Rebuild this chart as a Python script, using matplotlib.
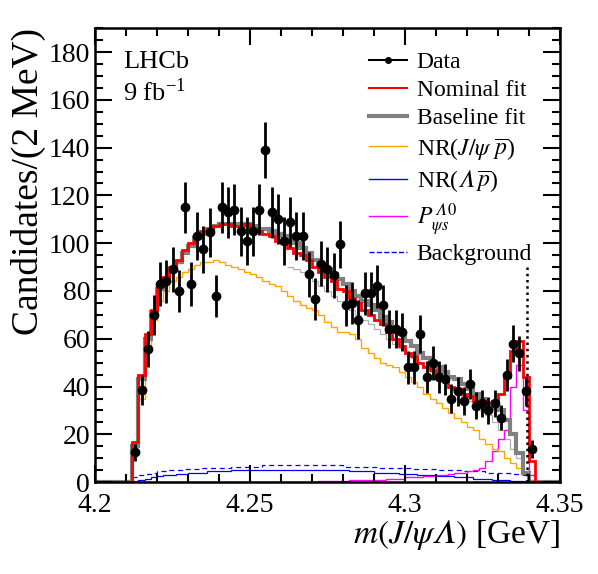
import numpy as np
import matplotlib
matplotlib.use("Agg")
import matplotlib.pyplot as plt
from matplotlib.ticker import MultipleLocator
from matplotlib.lines import Line2D

plt.rcParams["font.family"] = ["Liberation Serif", "DejaVu Serif"]
plt.rcParams["mathtext.fontset"] = "stix"

# 2 MeV bins from threshold
edges = 4.212 + 0.002 * np.arange(66)
centers = 0.5 * (edges[:-1] + edges[1:])

data = [12.6, 38.6, 55.8, 70, 83, 84, 89, 80, 115, 83, 103, 97.5, 104.5, 78, 115,
        113, 114, 105, 101, 105, 114, 139, 113, 110, 101, 109, 103, 103, 87, 76.5,
        91.5, 89, 86.5, 99.5, 74, 75, 68, 79, 79, 82, 74, 64, 64, 63, 48, 48, 62,
        44, 50, 44, 43, 35, 38, 34, 41, 32, 33, 30, 33, 27, 45, 58, 54, 38, 14]

nominal = [17, 45, 62, 72, 82, 86, 90, 93, 97, 100, 103, 105, 106, 107, 108, 108,
           107, 107, 108, 106, 105, 104, 103, 101, 100, 98, 96, 95, 93, 90, 88, 86,
           84, 81, 80, 77, 75, 72, 70, 68, 66, 63, 60, 57, 54, 53, 50, 48, 47, 44,
           43, 40, 39, 37, 36, 34, 34, 33, 34, 37, 44, 55, 59, 44, 9]

baseline = [15, 43, 60, 71, 81, 85, 89, 92, 96, 99, 102, 104, 106, 107, 108, 108,
            108, 108, 108, 107, 106, 106, 105, 104, 103, 101, 100, 98, 96, 93, 91,
            89, 87, 85, 83, 80, 78, 76, 74, 72, 69, 67, 64, 62, 59, 57, 54, 52, 50,
            48, 46, 44, 43, 41, 39, 37, 35, 33, 31, 30, 26, 20, 12, 4, 0]

nr_jpsip = [15, 35, 55, 68, 76, 80, 84, 86, 88, 89, 91, 92, 92, 93, 92, 91, 90, 89,
            88, 87, 86, 84, 83, 82, 80, 78, 76, 74, 73, 72, 70, 67, 65, 63, 63, 62,
            60, 56, 54, 52, 50, 49, 48, 46, 44, 42, 40, 37, 35, 33, 31, 29, 27, 25,
            23, 22, 18, 16, 14, 13, 10, 8, 6, 4, 1]

nr_lamp = [0.5, 1, 1.5, 2, 2.5, 3, 3, 3.5, 3.5, 4, 4, 4, 4.5, 4.5, 4.5, 4.5, 5, 5,
           5, 5, 5, 5, 5, 5, 5, 5, 5, 5, 5, 5, 5, 5, 5, 5, 5, 4.5, 4.5, 4.5, 4.5, 4,
           4, 4, 4, 3.5, 3.5, 3.5, 3, 3, 3, 2.5, 2.5, 2.5, 2, 2, 2, 1.5, 1.5, 1.5, 1,
           1, 1, 0.5, 0.5, 0.5, 0]

pcs = [0, 0, 0, 0, 0, 0, 0, 0, 0, 0, 0, 0, 0, 0, 0, 0, 0, 0, 0, 0, 0, 0, 0, 0, 0,
       0, 0, 0, 0, 0, 0.5, 0.5, 0.5, 0.5, 0.5, 1, 1, 1, 1, 1, 1, 1.5, 1.5, 1.5, 2,
       2, 2, 2.5, 2.5, 3, 3, 3.5, 4, 4, 4.5, 5, 6, 9, 13, 18, 22, 40, 49, 30, 3]

background = [2, 3, 3.5, 4, 4.5, 4.5, 5, 5, 5.5, 5.5, 5.5, 6, 6, 6, 6, 6, 6.5, 6.5,
              6.5, 6.5, 6.5, 7, 7, 7, 7, 7, 7, 7, 7, 7, 7, 7, 7, 7, 6.5, 6.5, 6.5,
              6.5, 6.5, 6.5, 6, 6, 6, 6, 6, 5.5, 5.5, 5.5, 5.5, 5, 5, 5, 5, 4.5, 4.5,
              4.5, 4.5, 4, 4, 4, 4, 3.5, 3.5, 3, 0]

# thin light grey curve, visible only in the upper-mass part (bins 25..62)
other_edges = edges[25:64]
other = [90, 89, 88, 86, 84, 82, 80, 78, 76, 74, 72, 70, 68, 66, 64, 62, 60, 58,
         56, 54, 52, 50, 48, 46, 44, 42, 40, 38, 36, 34, 32, 30, 28, 25, 22, 18,
         14, 10]

threshold_line = 4.3395

data = np.array(data)
err = np.sqrt(data)

LAM = "\U0001D6EC"  # italic capital Lambda

fig = plt.figure(figsize=(5.98, 5.74), dpi=100)
ax = fig.add_axes([0.159, 0.160, 0.777, 0.791])

full_edges = np.concatenate([[4.2], edges, [4.35]])


def pad(v):
    return np.concatenate([[0], v, [0]])


ax.stairs(other, other_edges, color="#b0b0b0", lw=0.9, baseline=None)
ax.stairs(background, edges, color="blue", lw=0.9, ls=(0, (4, 3)), baseline=None)
ax.stairs(nr_lamp, edges, color="blue", lw=0.9, baseline=None)
ax.stairs(pcs, edges, color="magenta", lw=1.0, baseline=None)
ax.stairs(nr_jpsip, edges, color="orange", lw=1.0, baseline=None)
ax.stairs(pad(baseline), full_edges, color="gray", lw=3, baseline=None)
ax.stairs(pad(nominal), full_edges, color="red", lw=2, baseline=None)
ax.plot([threshold_line, threshold_line], [0, 90], color="black", lw=1.8, ls=(0, (1, 1.5)))
ax.errorbar(centers, data, yerr=err, xerr=0.001, fmt="o", color="black",
            ms=6, elinewidth=2, capsize=0)

ax.set_xlim(4.2, 4.35)
ax.set_ylim(0, 190)
ax.xaxis.set_major_locator(MultipleLocator(0.05))
ax.xaxis.set_minor_locator(MultipleLocator(0.01))
ax.yaxis.set_major_locator(MultipleLocator(20))
ax.yaxis.set_minor_locator(MultipleLocator(5))
ax.tick_params(which="both", direction="in", top=True, right=True, width=1.5, labelsize=20)
ax.tick_params(which="major", length=12)
ax.tick_params(which="minor", length=6)
ax.tick_params(axis="x", pad=8)
ax.set_xticks([4.2, 4.25, 4.3, 4.35])
ax.set_xticklabels(["4.2", "4.25", "4.3", "4.35"])
for s in ax.spines.values():
    s.set_linewidth(1.8)

ax.set_xlabel(rf"$m(J/\psi{LAM})$ [GeV]", fontsize=24, loc="right", labelpad=0)
ax.set_ylabel("Candidates/(2 MeV)", fontsize=27, loc="top", labelpad=2)

ax.text(0.06, 0.925, "LHCb", transform=ax.transAxes, fontsize=19, va="center")
ax.text(0.06, 0.86, r"9 fb$^{\mathregular{-1}}$", transform=ax.transAxes, fontsize=19, va="center")

handles = [
    Line2D([], [], color="black", marker="o", ms=4, lw=1.5),
    Line2D([], [], color="red", lw=1.5),
    Line2D([], [], color="gray", lw=3),
    Line2D([], [], color="orange", lw=1),
    Line2D([], [], color="blue", lw=1),
    Line2D([], [], color="magenta", lw=1),
    Line2D([], [], color="blue", lw=1, ls="--"),
]
labels = ["Data", "Nominal fit", "Baseline fit", r"NR($J/\psi\ \overline{p}$)",
          rf"NR(${LAM}\,\overline{{p}}$)", rf"$P_{{\psi s}}^{{{LAM}\,0}}$", "Background"]
ax.legend(handles, labels, loc="upper left", bbox_to_anchor=(0.565, 0.975), frameon=False,
          fontsize=17, handlelength=1.6, handletextpad=0.4, labelspacing=0.28, borderpad=0)

fig.savefig("out.png", dpi=100)
